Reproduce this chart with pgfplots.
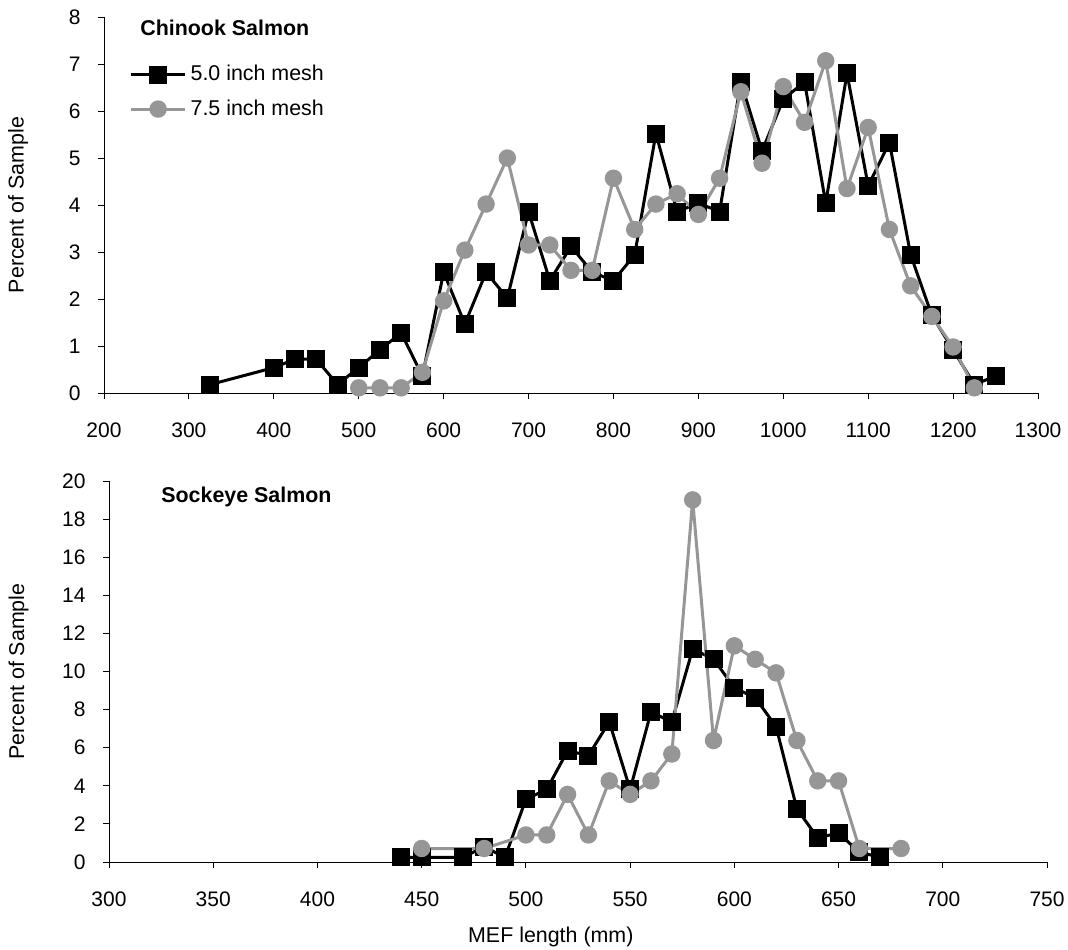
\documentclass[border=0pt]{standalone}
\usepackage{pgfplots}
\pgfplotsset{compat=1.18}
\usepackage{fontspec}
\setmainfont{Liberation Sans}
\definecolor{sgray}{RGB}{150,150,150}
\pgfplotsset{
  myaxis/.style={
    scale only axis,
    font=\fontsize{10.5}{12.6}\selectfont,
    axis x line*=bottom, axis y line*=left,
    axis line style={black, line width=0.5pt},
    tick style={black, line width=0.5pt},
    major tick length=3pt, tick align=outside,
    /pgf/number format/assume math mode=true,
    /pgf/number format/1000 sep={},
    scaled ticks=false,
    yticklabel style={inner sep=0pt, anchor=east},
    yticklabel shift=8.5pt,
    xticklabel style={inner sep=0pt, anchor=center},
    xticklabel shift=15.5pt,
    clip=false,
    ylabel={Percent of Sample},
    ylabel style={anchor=center, rotate=0, font=\fontsize{10.7}{12.8}\selectfont},
  },
  blk/.style={black, line width=1.5pt, mark=square*, mark size=3.75pt, mark options={solid, fill=black, draw=black}},
  gry/.style={sgray, line width=1.5pt, mark=*, mark size=3.6pt, mark options={solid, fill=sgray, draw=sgray}},
}
\begin{document}
\begin{tikzpicture}
\useasboundingbox (0pt,0pt) rectangle (534pt,-474.5pt);
\begin{axis}[myaxis,
  at={(52pt,-196.5pt)}, anchor=south west,
  width=467pt, height=188pt,
  xmin=200, xmax=1300, ymin=0, ymax=8,
  xtick distance=100, ytick distance=1,
  ylabel style={at={(axis description cs:-0.092,0.5)}},
  legend style={draw=none, fill=none, at={(axis description cs:0.027,0.878)}, anchor=north west,
    row sep=6pt, inner sep=0pt, font=\fontsize{10.7}{12.8}\selectfont,
    nodes={inner sep=1pt, inner xsep=2pt}},
  legend cell align=left,
  legend image code/.code={\draw[mark repeat=2,mark phase=2] plot coordinates {(0pt,0pt)(13.5pt,0pt)(27pt,0pt)};},
]
\addplot[blk] coordinates {
(325,0.18)(400,0.54)(425,0.72)(450,0.72)(475,0.18)(500,0.54)(525,0.92)(550,1.28)(575,0.36)
(600,2.57)(625,1.47)(650,2.57)(675,2.02)(700,3.86)(725,2.39)(750,3.12)(775,2.57)(800,2.39)
(825,2.94)(850,5.52)(875,3.86)(900,4.04)(925,3.86)(950,6.62)(975,5.15)(1000,6.25)(1025,6.62)
(1050,4.04)(1075,6.80)(1100,4.41)(1125,5.33)(1150,2.94)(1175,1.65)(1200,0.92)(1225,0.18)(1250,0.36)
};
\addlegendentry{5.0 inch mesh}
\addplot[gry] coordinates {
(500,0.11)(525,0.11)(550,0.11)(575,0.44)(600,1.96)(625,3.04)(650,4.02)(675,5.00)(700,3.15)
(725,3.15)(750,2.61)(775,2.61)(800,4.57)(825,3.48)(850,4.02)(875,4.24)(900,3.80)(925,4.57)
(950,6.41)(975,4.89)(1000,6.52)(1025,5.76)(1050,7.07)(1075,4.35)(1100,5.65)(1125,3.48)
(1150,2.28)(1175,1.63)(1200,0.98)(1225,0.11)
};
\addlegendentry{7.5 inch mesh}
\node[anchor=west, font=\fontsize{10.7}{12.8}\selectfont\bfseries, inner sep=0pt] at (rel axis cs:0.0385,0.9707) {Chinook Salmon};
\end{axis}
\begin{axis}[myaxis,
  at={(54.5pt,-431pt)}, anchor=south west,
  width=469pt, height=190.5pt,
  xmin=300, xmax=750, ymin=0, ymax=20,
  xtick distance=50, ytick distance=2,
  ylabel style={at={(axis description cs:-0.0964,0.5)}},
  xlabel={MEF length (mm)},
  xlabel style={at={(axis description cs:0.471,0)}, anchor=center, yshift=-37.5pt, font=\fontsize{10.7}{12.8}\selectfont},
]
\addplot[blk] coordinates {
(440,0.25)(450,0.25)(470,0.25)(480,0.8)(490,0.25)(500,3.30)(510,3.81)(520,5.84)(530,5.59)
(540,7.36)(550,3.81)(560,7.87)(570,7.36)(580,11.17)(590,10.66)(600,9.14)(610,8.63)(620,7.11)
(630,2.79)(640,1.27)(650,1.52)(660,0.51)(670,0.25)
};
\addplot[gry] coordinates {
(450,0.71)(480,0.71)(500,1.42)(510,1.42)(520,3.55)(530,1.42)(540,4.26)(550,3.55)(560,4.26)
(570,5.67)(580,19.01)(590,6.38)(600,11.35)(610,10.64)(620,9.93)(630,6.38)(640,4.26)(650,4.26)
(660,0.71)(680,0.71)
};
\node[anchor=west, font=\fontsize{10.7}{12.8}\selectfont\bfseries, inner sep=0pt] at (rel axis cs:0.0554,0.958) {Sockeye Salmon};
\end{axis}
\end{tikzpicture}
\end{document}
